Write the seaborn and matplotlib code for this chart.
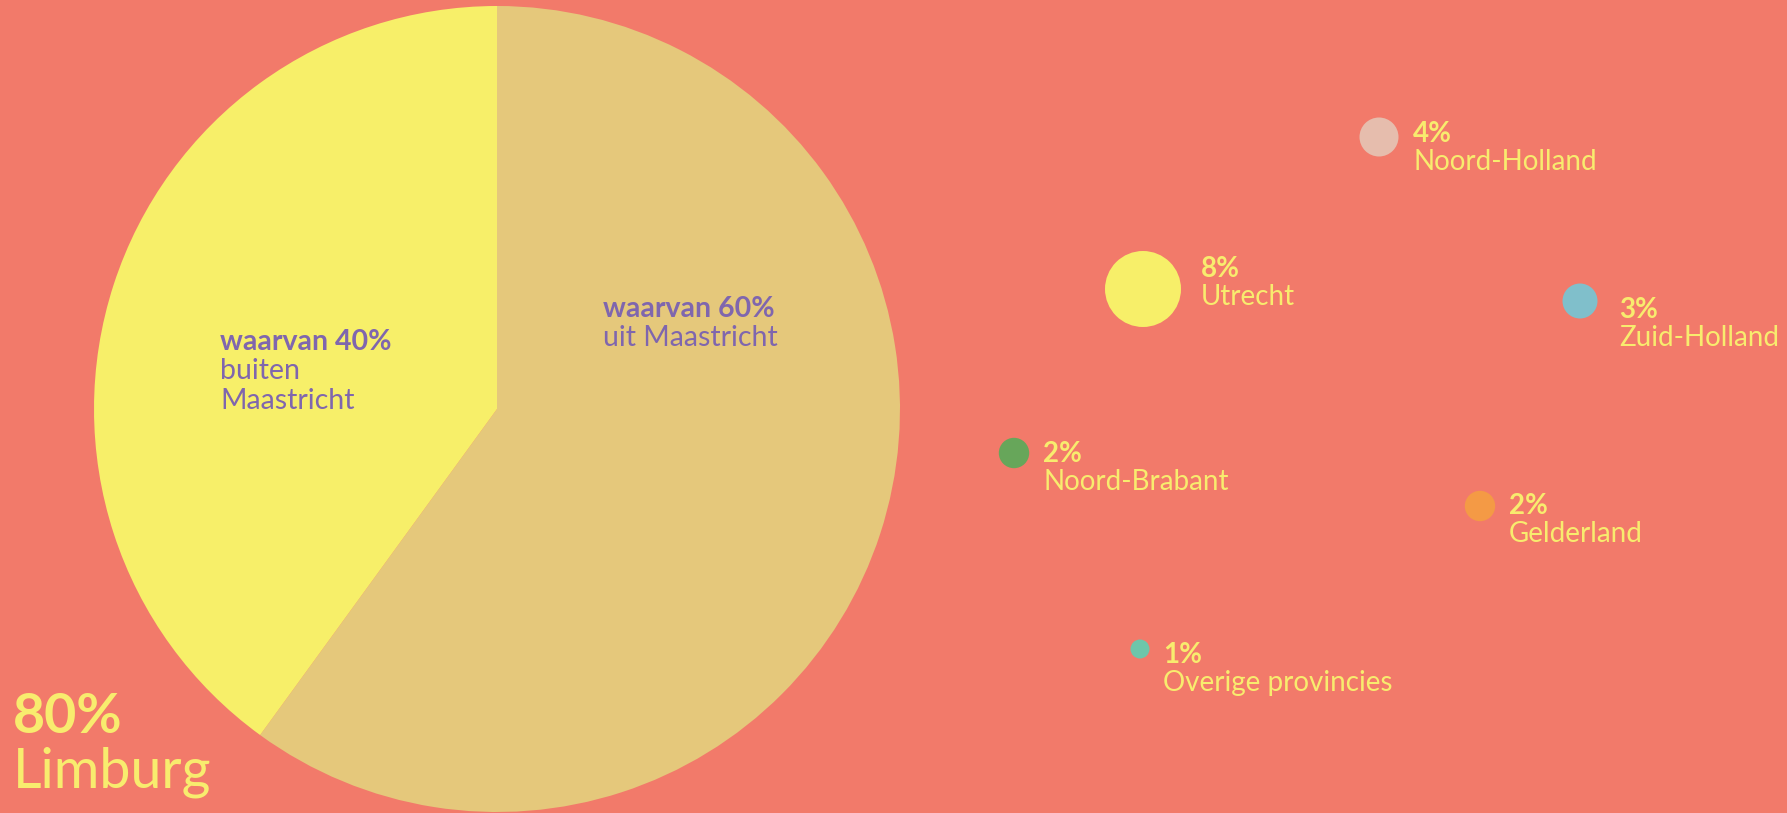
import pandas as pd
import seaborn as sns
import matplotlib.pyplot as plt

# data
limburg_share = 80
maastricht_split = [60, 40]
split_titles = ["waarvan 60%", "waarvan 40%"]
split_texts = ["uit Maastricht", "buiten\nMaastricht"]

provinces = ["Noord-Holland", "Utrecht", "Zuid-Holland", "Noord-Brabant", "Gelderland", "Overige provincies"]
shares = [4, 8, 3, 2, 2, 1]

# layout (pixels, origin top-left)
W, H = 1787, 813
pie_center = (497, 409)
pie_radius = 403
bubble_x = [1379, 1143, 1580, 1014, 1480, 1140]
bubble_y = [137, 289, 301, 453, 506, 649]
label_x = [1413, 1201, 1619, 1043, 1509, 1163]
label_y = [142, 277, 318, 462, 514, 663]
split_pos = [(603, 317), (220, 350)]
radius_px = {1: 9.5, 2: 15.2, 3: 17.5, 4: 19.5, 8: 38}

BG = "#F27A6A"
TEXT_YELLOW = "#F8EC6E"
PURPLE = "#7F66AE"
pie_colors = ["#E5C87B", "#F7EF69"]
bubble_colors = ["#E6BDAD", "#F7EF69", "#80BFCB", "#67A65A", "#F49A45", "#6DC6AA"]

sns.set_theme(style="white")
plt.rcParams["font.family"] = ["Lato", "DejaVu Sans"]

fig = plt.figure(figsize=(W / 100, H / 100), dpi=100, facecolor=BG)
ax = fig.add_axes([0, 0, 1, 1], facecolor=BG)

# y axis is inverted, so counterclock in data = clockwise on screen
ax.pie(maastricht_split, colors=pie_colors, startangle=-90, counterclock=True,
       center=pie_center, radius=pie_radius, wedgeprops=dict(linewidth=0))

df = pd.DataFrame({"provincie": provinces, "aandeel": shares, "x": bubble_x, "y": bubble_y})
sizes = {v: (2 * r * 72 / 100) ** 2 for v, r in radius_px.items()}
sns.scatterplot(data=df, x="x", y="y", hue="provincie", palette=bubble_colors,
                size="aandeel", sizes=sizes, linewidth=0, legend=False, ax=ax)

ax.set_xlim(0, W)
ax.set_ylim(H, 0)
ax.set_aspect("auto")
ax.set_axis_off()

# bubble labels
for name, val, tx, ty in zip(provinces, shares, label_x, label_y):
    ax.text(tx, ty, f"{val}%", color=TEXT_YELLOW, fontsize=20, fontweight="bold", va="baseline")
    ax.text(tx, ty + 28, name, color=TEXT_YELLOW, fontsize=20, va="baseline")

# pie labels
for title, txt, (tx, ty) in zip(split_titles, split_texts, split_pos):
    ax.text(tx, ty, title, color=PURPLE, fontsize=20.5, fontweight="bold", va="baseline")
    for i, line in enumerate(txt.split("\n")):
        ax.text(tx, ty + 29 + 30 * i, line, color=PURPLE, fontsize=20.5, va="baseline")

ax.text(13, 733, f"{limburg_share}%", color=TEXT_YELLOW, fontsize=40, fontweight="bold", va="baseline")
ax.text(13, 787, "Limburg", color=TEXT_YELLOW, fontsize=40, va="baseline")

fig.savefig("out.png", dpi=100, facecolor=BG)
